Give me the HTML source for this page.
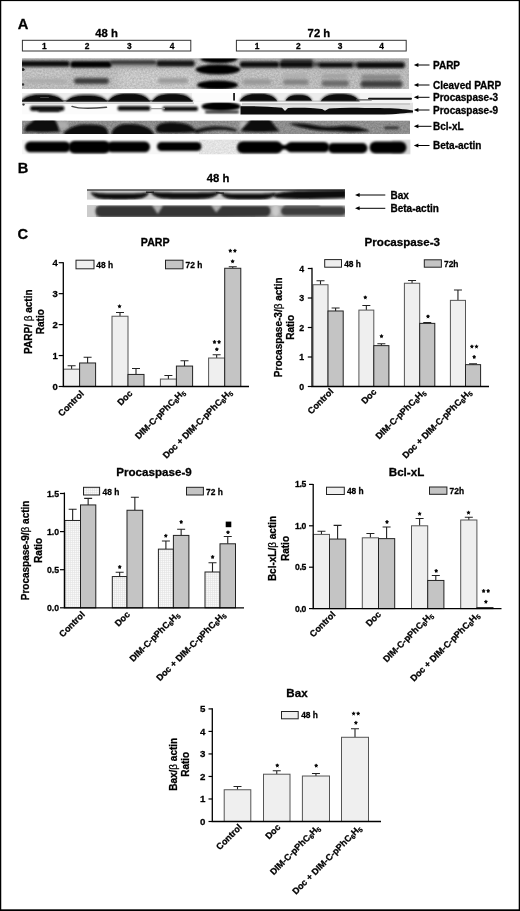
<!DOCTYPE html>
<html><head><meta charset="utf-8"><title>Figure</title>
<style>html,body{margin:0;padding:0;background:#fff;}body{width:520px;height:911px;overflow:hidden;font-family:'Liberation Sans', sans-serif;}svg{display:block;filter:grayscale(1);}text{font-family:"Liberation Sans",sans-serif;fill:#000;stroke:#000;stroke-width:0.28px;}</style>
</head><body>
<svg width="520" height="911" viewBox="0 0 520 911">
<defs>
<filter id="b1" filterUnits="userSpaceOnUse" x="0" y="40" width="520" height="190"><feGaussianBlur stdDeviation="1.05"/></filter>
<filter id="b2" filterUnits="userSpaceOnUse" x="0" y="40" width="520" height="190"><feGaussianBlur stdDeviation="1.6"/></filter>
<filter id="b05" filterUnits="userSpaceOnUse" x="0" y="40" width="520" height="190"><feGaussianBlur stdDeviation="0.55"/></filter>
<filter id="b3" filterUnits="userSpaceOnUse" x="0" y="40" width="520" height="190"><feGaussianBlur stdDeviation="3"/></filter>
<filter id="noise" filterUnits="userSpaceOnUse" x="0" y="40" width="520" height="190"><feTurbulence type="fractalNoise" baseFrequency="0.55" numOctaves="2" seed="7" result="t"/><feColorMatrix in="t" type="matrix" values="0 0 0 0 0  0 0 0 0 0  0 0 0 0 0  1.6 0 0 0 -0.35"/><feComposite in2="SourceGraphic" operator="in"/></filter>
<pattern id="grid" width="2" height="2" patternUnits="userSpaceOnUse"><rect width="2" height="2" fill="#f9f9f9"/><path d="M0,0.5H2M0.5,0V2" stroke="#e2e2e2" stroke-width="0.6"/></pattern>
<clipPath id="cPARP"><rect x="22" y="58.5" width="387" height="30.5"/></clipPath>
<clipPath id="cP3"><rect x="22" y="93" width="390" height="8.6"/></clipPath>
<clipPath id="cP9"><rect x="22" y="102.4" width="391" height="12"/></clipPath>
<clipPath id="cBCL"><rect x="22" y="120.5" width="388" height="13.4"/></clipPath>
<clipPath id="cACT"><rect x="22" y="139.5" width="388.5" height="15"/></clipPath>
<clipPath id="cBAX"><rect x="87" y="189.2" width="258" height="10.6"/></clipPath>
<clipPath id="cBACT"><rect x="87" y="205.3" width="258" height="11.8"/></clipPath>
</defs>
<rect x="0" y="0" width="520" height="911" fill="#fff"/>
<text x="17.70" y="28.50" font-size="14.7" font-weight="bold" text-anchor="start" >A</text>
<text x="95.20" y="37.00" font-size="11.3" font-weight="bold" text-anchor="start" >48 h</text>
<text x="307.60" y="37.00" font-size="11.3" font-weight="bold" text-anchor="start" >72 h</text>
<rect x="22.4" y="40.3" width="168.4" height="10.7" fill="#fff" stroke="#333" stroke-width="1"/>
<rect x="236.4" y="40.3" width="169.8" height="10.7" fill="#fff" stroke="#333" stroke-width="1"/>
<text x="44.30" y="49.20" font-size="8.4" font-weight="bold" text-anchor="middle" >1</text>
<text x="87.00" y="49.20" font-size="8.4" font-weight="bold" text-anchor="middle" >2</text>
<text x="129.30" y="49.20" font-size="8.4" font-weight="bold" text-anchor="middle" >3</text>
<text x="172.00" y="49.20" font-size="8.4" font-weight="bold" text-anchor="middle" >4</text>
<text x="257.00" y="49.20" font-size="8.4" font-weight="bold" text-anchor="middle" >1</text>
<text x="298.40" y="49.20" font-size="8.4" font-weight="bold" text-anchor="middle" >2</text>
<text x="340.00" y="49.20" font-size="8.4" font-weight="bold" text-anchor="middle" >3</text>
<text x="381.70" y="49.20" font-size="8.4" font-weight="bold" text-anchor="middle" >4</text>
<g clip-path="url(#cPARP)">
<rect x="22" y="58" width="387" height="32" fill="#c8c8c8"/>
<rect x="118" y="69" width="78.00" height="23.00" rx="3" ry="3" fill="#d6d6d6" opacity="1" filter="url(#b3)"/>
<rect x="22" y="67" width="48.00" height="10.00" rx="3" ry="3" fill="#d0d0d0" opacity="1" filter="url(#b3)"/>
<rect x="243" y="68" width="57.00" height="8.00" rx="3" ry="3" fill="#cfcfcf" opacity="1" filter="url(#b3)"/>
<rect x="22" y="58" width="387" height="32" fill="#888" filter="url(#noise)" opacity="0.16"/>
<rect x="22" y="58" width="387" height="1.6" fill="#aaa" filter="url(#b05)"/>
<rect x="20" y="60.5" width="176.00" height="7.00" rx="3" ry="3" fill="#8a8a8a" opacity="0.75" filter="url(#b2)"/>
<rect x="240" y="60.5" width="166.00" height="8.00" rx="3" ry="3" fill="#858585" opacity="0.8" filter="url(#b2)"/>
<rect x="18" y="61.1" width="51.50" height="5.40" rx="2.5" ry="2.5" fill="#0e0e0e" opacity="1" filter="url(#b1)"/>
<rect x="70.5" y="61.2" width="41.00" height="6.40" rx="3.2" ry="3.2" fill="#060606" opacity="1" filter="url(#b1)"/>
<rect x="110" y="60.2" width="46.00" height="4.40" rx="2" ry="2" fill="#3a3a3a" opacity="1" filter="url(#b1)"/>
<rect x="156.5" y="60.6" width="38.00" height="5.60" rx="2.6" ry="2.6" fill="#141414" opacity="1" filter="url(#b1)"/>
<ellipse cx="23" cy="69.5" rx="1.6" ry="1.6" fill="#222" opacity="1" filter="url(#b05)"/>
<ellipse cx="23" cy="84.5" rx="1.3" ry="1.3" fill="#333" opacity="1" filter="url(#b05)"/>
<rect x="26" y="79" width="40.00" height="4.00" rx="2" ry="2" fill="#aaaaaa" opacity="1" filter="url(#b2)"/>
<rect x="74" y="78" width="35.00" height="6.00" rx="3" ry="3" fill="#3a3a3a" opacity="1" filter="url(#b2)"/>
<rect x="158" y="78" width="30.00" height="5.50" rx="2.5" ry="2.5" fill="#9a9a9a" opacity="1" filter="url(#b2)"/>
<ellipse cx="219" cy="58.8" rx="18.5" ry="4.4" fill="#040404" opacity="1" filter="url(#b1)"/>
<ellipse cx="218" cy="69.6" rx="22.3" ry="5" fill="#040404" opacity="1" filter="url(#b1)"/>
<ellipse cx="217.5" cy="85" rx="20.5" ry="4.5" fill="#040404" opacity="1" filter="url(#b1)"/>
<rect x="240" y="61.8" width="39.00" height="5.50" rx="2.6" ry="2.6" fill="#101010" opacity="1" filter="url(#b1)"/>
<rect x="281" y="58.5" width="32.00" height="4.50" rx="2" ry="2" fill="#4a4a4a" opacity="1" filter="url(#b2)"/>
<rect x="279.5" y="61.6" width="34.00" height="5.80" rx="2.8" ry="2.8" fill="#0c0c0c" opacity="1" filter="url(#b1)"/>
<rect x="312" y="62.6" width="8.00" height="3.60" rx="2" ry="2" fill="#4a4a4a" opacity="1" filter="url(#b1)"/>
<rect x="318.5" y="62.6" width="35.00" height="4.80" rx="2.4" ry="2.4" fill="#111" opacity="1" filter="url(#b1)"/>
<rect x="352" y="63" width="8.00" height="3.40" rx="2" ry="2" fill="#4a4a4a" opacity="1" filter="url(#b1)"/>
<rect x="357" y="62.2" width="47.50" height="5.80" rx="2.8" ry="2.8" fill="#0c0c0c" opacity="1" filter="url(#b1)"/>
<rect x="243" y="79.2" width="28.00" height="5.60" rx="2.5" ry="2.5" fill="#989898" opacity="1" filter="url(#b2)"/>
<rect x="283" y="73.6" width="24.00" height="3.80" rx="2" ry="2" fill="#adadad" opacity="1" filter="url(#b2)"/>
<rect x="283" y="79.2" width="25.50" height="5.80" rx="2.5" ry="2.5" fill="#838383" opacity="1" filter="url(#b2)"/>
<rect x="322" y="74" width="26.00" height="4.30" rx="2" ry="2" fill="#a0a0a0" opacity="1" filter="url(#b2)"/>
<rect x="321.5" y="80.2" width="27.50" height="6.20" rx="3" ry="3" fill="#6a6a6a" opacity="1" filter="url(#b2)"/>
<rect x="361" y="74.6" width="40.00" height="4.80" rx="2.4" ry="2.4" fill="#868686" opacity="1" filter="url(#b2)"/>
<rect x="360.5" y="80.6" width="42.00" height="7.00" rx="3.4" ry="3.4" fill="#3e3e3e" opacity="1" filter="url(#b2)"/>
</g>
<g clip-path="url(#cP3)">
<rect x="22" y="93" width="390" height="9" fill="#ececec"/>
<rect x="192" y="93" width="49" height="9" fill="#fcfcfc"/>
<rect x="360" y="93" width="52" height="9" fill="#f4f4f4"/>
<path d="M20,102 C24.45,95.28 31.57,93.6 42.25,93.6 C52.93,93.6 60.05,95.28 64.5,102 Z" fill="#3a3a3a" filter="url(#b1)"/>
<path d="M21,102.3 C25.3,96.62 32.18,95.2 42.5,95.2 C52.82,95.2 59.7,96.62 64,102.3 Z" fill="#0b0b0b" filter="url(#b05)"/>
<path d="M65,102 C69.35,95.84 76.31,94.3 86.75,94.3 C97.19,94.3 104.15,95.84 108.5,102 Z" fill="#3a3a3a" filter="url(#b1)"/>
<path d="M65.5,102.3 C69.75,97.26 76.55,96 86.75,96 C96.95,96 103.75,97.26 108,102.3 Z" fill="#0b0b0b" filter="url(#b05)"/>
<path d="M107,102 C111.4,94.48 118.44,92.6 129.0,92.6 C139.56,92.6 146.6,94.48 151,102 Z" fill="#3a3a3a" filter="url(#b1)"/>
<path d="M107.5,102.3 C111.8,95.82 118.68,94.2 129.0,94.2 C139.32,94.2 146.2,95.82 150.5,102.3 Z" fill="#0b0b0b" filter="url(#b05)"/>
<path d="M151,102 C155.25,94.64 162.05,92.8 172.25,92.8 C182.45,92.8 189.25,94.64 193.5,102 Z" fill="#3a3a3a" filter="url(#b1)"/>
<path d="M151.5,102.3 C155.65,95.98 162.29,94.4 172.25,94.4 C182.21,94.4 188.85,95.98 193,102.3 Z" fill="#0b0b0b" filter="url(#b05)"/>
<path d="M239,101.3 C242.9,94.50 249.14,92.8 258.5,92.8 C267.86,92.8 274.1,94.50 278,101.3 Z" fill="#3a3a3a" filter="url(#b1)"/>
<path d="M239.5,101.4 C243.3,95.64 249.38,94.2 258.5,94.2 C267.62,94.2 273.7,95.64 277.5,101.4 Z" fill="#0b0b0b" filter="url(#b05)"/>
<path d="M285,100.8 C287.75,95.36 292.15,94 298.75,94 C305.35,94 309.75,95.36 312.5,100.8 Z" fill="#3a3a3a" filter="url(#b1)"/>
<path d="M285.5,100.8 C288.15,96.32 292.39,95.2 298.75,95.2 C305.11,95.2 309.35,96.32 312,100.8 Z" fill="#0b0b0b" filter="url(#b05)"/>
<path d="M320,101.3 C324.0,94.66 330.4,93 340.0,93 C349.6,93 356.0,94.66 360,101.3 Z" fill="#3a3a3a" filter="url(#b1)"/>
<path d="M320.5,101.4 C324.4,95.96 330.64,94.6 340.0,94.6 C349.36,94.6 355.6,95.96 359.5,101.4 Z" fill="#0b0b0b" filter="url(#b05)"/>
<rect x="368" y="97.7" width="44.00" height="2.00" rx="1" ry="1" fill="#151515" opacity="1" filter="url(#b05)"/>
<rect x="356" y="99.2" width="16.00" height="1.20" rx="0.6" ry="0.6" fill="#555" opacity="1" filter="url(#b05)"/>
<rect x="233.2" y="92.6" width="1.7" height="8" fill="#111" filter="url(#b05)"/>
<rect x="22" y="100.5" width="171" height="1.3" fill="#1a1a1a"/>
<rect x="240" y="100.8" width="120" height="0.8" fill="#777"/>
<rect x="40" y="97.2" width="9.00" height="0.70" rx="0.4" ry="0.4" fill="#777" opacity="0.7" filter="url(#b05)"/>
</g>
<g clip-path="url(#cP9)">
<rect x="22" y="102.4" width="220" height="12" fill="#fbfbfb"/>
<rect x="242" y="102.4" width="171" height="12" fill="#e2e2e2"/>
<rect x="22" y="102.4" width="172" height="1" fill="#8a8a8a"/>
<rect x="242" y="103.4" width="168" height="1.2" fill="#bdbdbd" filter="url(#b05)"/>
<ellipse cx="23.5" cy="104.6" rx="1.3" ry="1.1" fill="#333" opacity="1" filter="url(#b05)"/>
<rect x="30" y="105.9" width="34.50" height="5.00" rx="2.4" ry="2.4" fill="#0a0a0a" opacity="1" filter="url(#b1)"/>
<rect x="38" y="109" width="22.00" height="2.80" rx="1.3" ry="1.3" fill="#151515" opacity="1" filter="url(#b1)"/>
<path d="M72,106.4 C78,108.6 90,108.9 106.5,107.3" fill="none" stroke="#4a4a4a" stroke-width="1.5" stroke-linecap="round" filter="url(#b05)"/>
<rect x="117.5" y="106" width="33.00" height="4.80" rx="2.2" ry="2.2" fill="#0a0a0a" opacity="1" filter="url(#b1)"/>
<rect x="162.5" y="106.4" width="35.50" height="4.50" rx="2" ry="2" fill="#0e0e0e" opacity="1" filter="url(#b1)"/>
<rect x="150" y="108" width="15.00" height="1.30" rx="0.6" ry="0.6" fill="#9a9a9a" opacity="1" filter="url(#b05)"/>
<ellipse cx="221" cy="106.4" rx="19.5" ry="4.9" fill="#050505" opacity="1" filter="url(#b1)"/>
<rect x="205" y="110.4" width="34.00" height="3.00" rx="1.3" ry="1.3" fill="#333" opacity="1" filter="url(#b1)"/>
<path d="M240.5,106.3 C255,105.9 270,106.8 282,107.8 L285,111 L288,108 C300,107.4 312,107.9 322,108.9 L325,110.8 L329,108.4 C345,107.2 360,107.8 380,108.1 C395,108.4 405,109.2 413,110.6 L413,112.4 C400,113 392,115 380,115 L240.5,115 Z" fill="#090909" filter="url(#b05)"/>
</g>
<g clip-path="url(#cBCL)">
<rect x="22" y="120.5" width="388" height="13.5" fill="#9c9c9c"/>
<rect x="22" y="120.5" width="388" height="13.5" fill="#777" filter="url(#noise)" opacity="0.2"/>
<rect x="56" y="121" width="12.00" height="8.00" rx="2" ry="2" fill="#adadad" opacity="1" filter="url(#b2)"/>
<path d="M24.5,131.8 C24.5,127.5 26.5,124.5 30.5,123 C33,121 34.5,118.5 36,117 L53,117 C56,121 59,127 59.5,131.8 C48,132.3 35,132.3 24.5,131.8 Z" fill="#0a0a0a" filter="url(#b1)"/>
<path d="M64,132.5 C68,129 74,125.2 84,124.6 C92,124.2 101,124.6 105,127 C107.5,129 108.5,132 108.5,136 L64,136 Z" fill="#080808" filter="url(#b1)"/>
<path d="M111.5,133 C113,128 118,124.4 126,124 C136,123.8 144,125 149,128.5 C152,130.5 154,133 154.5,136 L111.5,136 Z" fill="#080808" filter="url(#b1)"/>
<path d="M156,128 C157,124.5 162,122.3 170,122.2 C178,122.2 186,123 190,125.5 C194,128 196,130 197,131.5 C190,133.3 165,133.4 158,132.5 C156,131.5 155.5,129.5 156,128 Z" fill="#080808" filter="url(#b1)"/>
<path d="M193,131 C203,126 222,124.2 236,129.3 L237,131.8 C225,128.8 208,129.4 197,133.6 Z" fill="#121212" filter="url(#b1)"/>
<ellipse cx="243.5" cy="125" rx="4" ry="4.5" fill="#bcbcbc" opacity="1" filter="url(#b2)"/>
<path d="M241,131.2 C242,128 246,125 249,122 C250,120 250.5,118.5 251,117 L269,117 C271,122 276,127 279.5,131.2 C268,132.2 252,132.2 241,131.2 Z" fill="#0a0a0a" filter="url(#b1)"/>
<path d="M289,123.6 C296,122.6 306,123.2 316,125.6 C326,127.4 334,127 342,125.8 C352,125 362,127.4 370,131 C360,132.6 348,132.4 338,131.2 C326,131.4 314,130.4 304,128 C297,126.6 292,125.4 289,123.6 Z" fill="#0b0b0b" filter="url(#b1)"/>
<rect x="384" y="126.4" width="15.00" height="2.80" rx="1.4" ry="1.4" fill="#2e2e2e" opacity="1" filter="url(#b1)"/>
</g>
<g clip-path="url(#cACT)">
<rect x="22" y="139.5" width="388.5" height="15" fill="#f6f6f6"/>
<rect x="199" y="139.5" width="42" height="15" fill="#eeeeee"/>
<rect x="199" y="139.5" width="42" height="15" fill="#aaa" filter="url(#noise)" opacity="0.1"/>
<rect x="392" y="139.5" width="19" height="15" fill="#d4d4d4" filter="url(#b1)"/>
<rect x="25" y="141.5" width="45.50" height="10.70" rx="5.2" ry="5.2" fill="#040404" opacity="1" filter="url(#b1)"/>
<rect x="68.5" y="140.7" width="42.00" height="12.80" rx="6.2" ry="6.2" fill="#040404" opacity="1" filter="url(#b1)"/>
<rect x="107" y="141.4" width="43.00" height="10.80" rx="5.2" ry="5.2" fill="#040404" opacity="1" filter="url(#b1)"/>
<rect x="157" y="141.9" width="44.50" height="9.10" rx="4.5" ry="4.5" fill="#040404" opacity="1" filter="url(#b1)"/>
<rect x="237" y="141.2" width="45.50" height="12.20" rx="6" ry="6" fill="#040404" opacity="1" filter="url(#b1)"/>
<rect x="279" y="145" width="11.00" height="4.40" rx="2" ry="2" fill="#040404" opacity="1" filter="url(#b1)"/>
<rect x="286" y="141.9" width="43.50" height="10.30" rx="5.2" ry="5.2" fill="#040404" opacity="1" filter="url(#b1)"/>
<rect x="328" y="143" width="39.50" height="10.20" rx="5.1" ry="5.1" fill="#040404" opacity="1" filter="url(#b1)"/>
<rect x="369.5" y="141.4" width="37.00" height="12.00" rx="6" ry="6" fill="#040404" opacity="1" filter="url(#b1)"/>
</g>
<line x1="415.80" y1="65.00" x2="429.50" y2="65.00" stroke="#000" stroke-width="1"/>
<path d="M413.80,65.00 l4.6,-2 l0,4 z" fill="#000"/>
<text x="433.00" y="68.60" font-size="10" font-weight="bold" text-anchor="start" >PARP</text>
<line x1="415.80" y1="85.00" x2="429.50" y2="85.00" stroke="#000" stroke-width="1"/>
<path d="M413.80,85.00 l4.6,-2 l0,4 z" fill="#000"/>
<text x="433.00" y="88.60" font-size="10" font-weight="bold" text-anchor="start" >Cleaved PARP</text>
<line x1="415.80" y1="97.30" x2="429.50" y2="97.30" stroke="#000" stroke-width="1"/>
<path d="M413.80,97.30 l4.6,-2 l0,4 z" fill="#000"/>
<text x="433.00" y="100.90" font-size="10" font-weight="bold" text-anchor="start" >Procaspase-3</text>
<line x1="415.80" y1="110.00" x2="429.50" y2="110.00" stroke="#000" stroke-width="1"/>
<path d="M413.80,110.00 l4.6,-2 l0,4 z" fill="#000"/>
<text x="433.00" y="114.20" font-size="10" font-weight="bold" text-anchor="start" >Procaspase-9</text>
<line x1="415.80" y1="126.30" x2="431.50" y2="126.30" stroke="#000" stroke-width="1"/>
<path d="M413.80,126.30 l4.6,-2 l0,4 z" fill="#000"/>
<text x="433.00" y="129.90" font-size="10" font-weight="bold" text-anchor="start" >Bcl-xL</text>
<line x1="415.80" y1="145.50" x2="429.50" y2="145.50" stroke="#000" stroke-width="1"/>
<path d="M413.80,145.50 l4.6,-2 l0,4 z" fill="#000"/>
<text x="433.00" y="149.10" font-size="10" font-weight="bold" text-anchor="start" >Beta-actin</text>
<text x="17.70" y="173.30" font-size="14.7" font-weight="bold" text-anchor="start" >B</text>
<text x="206.70" y="181.60" font-size="11.3" font-weight="bold" text-anchor="start" >48 h</text>
<g clip-path="url(#cBAX)">
<rect x="87" y="189.2" width="258" height="10.6" fill="#cfcfcf"/>
<rect x="87" y="188.6" width="258" height="2.2" fill="#505050" filter="url(#b05)"/>
<path d="M90.5,192.3 C97.58,193.8 105.25,193.8 120.0,193.8 C134.75,193.8 142.42,193.8 149.5,192.3 C144.78,199.2 137.7,199.2 120.0,199.2 C102.3,199.2 95.22,199.2 90.5,192.3 Z" fill="#444" opacity="0.55" filter="url(#b2)"/>
<path d="M90.5,192.3 C97.58,193.8 105.25,193.8 120.0,193.8 C134.75,193.8 142.42,193.8 149.5,192.3 C144.78,199.2 137.7,199.2 120.0,199.2 C102.3,199.2 95.22,199.2 90.5,192.3 Z" fill="#070707" filter="url(#b1)"/>
<path d="M150.5,192 C158.78,192.9 167.75,192.9 185.0,192.9 C202.25,192.9 211.22,192.9 219.5,192 C213.98,198.8 205.7,198.8 185.0,198.8 C164.3,198.8 156.02,198.8 150.5,192 Z" fill="#444" opacity="0.55" filter="url(#b2)"/>
<path d="M150.5,192 C158.78,192.9 167.75,192.9 185.0,192.9 C202.25,192.9 211.22,192.9 219.5,192 C213.98,198.8 205.7,198.8 185.0,198.8 C164.3,198.8 156.02,198.8 150.5,192 Z" fill="#070707" filter="url(#b1)"/>
<path d="M220.5,193 C227.16,194 234.375,194 248.25,194 C262.125,194 269.34,194 276,193 C271.56,199.3 264.9,199.3 248.25,199.3 C231.6,199.3 224.94,199.3 220.5,193 Z" fill="#444" opacity="0.55" filter="url(#b2)"/>
<path d="M220.5,193 C227.16,194 234.375,194 248.25,194 C262.125,194 269.34,194 276,193 C271.56,199.3 264.9,199.3 248.25,199.3 C231.6,199.3 224.94,199.3 220.5,193 Z" fill="#070707" filter="url(#b1)"/>
<path d="M146,191.6 L154,191.6 L154,193 L146,193 Z M216,192 L224,192.4 L224,194 L216,193.4 Z" fill="#222" filter="url(#b05)"/>
<path d="M272,194.5 C280,192 292,190.6 310,190.4 L346,190 L346,197.8 C325,199.2 295,199.4 278,198 C275,197.4 273,196 272,194.5 Z" fill="#070707" filter="url(#b1)"/>
</g>
<g clip-path="url(#cBACT)">
<rect x="87" y="205.3" width="258" height="11.8" fill="#b0b0b0"/>
<rect x="87" y="205.3" width="9" height="11.8" fill="#cbcbcb" filter="url(#b05)"/>
<path d="M101,205.6 L152,205.6 L157.8,214 L163,205.6 L211,205.6 L216.2,212.5 L222,206 L266,206 C269,206 270.5,208 270.5,211 C270.5,214 269,216.4 266,216.6 L222,217 L101,217 C97.5,217 95.5,214.5 95.5,211.3 C95.5,208 97.5,205.6 101,205.6 Z" fill="#363636" filter="url(#b1)"/>
<rect x="281" y="206.6" width="65.00" height="9.00" rx="4.5" ry="4.5" fill="#3e3e3e" opacity="1" filter="url(#b1)"/>
<rect x="284" y="205.6" width="36.00" height="2.40" rx="1.5" ry="1.5" fill="#555" opacity="1" filter="url(#b1)"/>
<ellipse cx="275.7" cy="210.5" rx="3.4" ry="6" fill="#cbcbcb" opacity="1" filter="url(#b1)"/>
</g>
<line x1="357.00" y1="195.00" x2="385.30" y2="195.00" stroke="#000" stroke-width="1"/>
<path d="M355.00,195.00 l4.6,-2 l0,4 z" fill="#000"/>
<text x="390.50" y="198.70" font-size="10" font-weight="bold" text-anchor="start" >Bax</text>
<line x1="357.00" y1="208.30" x2="385.30" y2="208.30" stroke="#000" stroke-width="1"/>
<path d="M355.00,208.30 l4.6,-2 l0,4 z" fill="#000"/>
<text x="390.50" y="212.00" font-size="10" font-weight="bold" text-anchor="start" >Beta-actin</text>
<text x="17.60" y="238.80" font-size="14.7" font-weight="bold" text-anchor="start" >C</text>
<path d="M71.60,369.17 V365.80 M67.60,365.80 H75.60" stroke="#222" stroke-width="1.1" fill="none"/>
<rect x="63.60" y="369.17" width="16.00" height="17.33" fill="#efefef" stroke="#555" stroke-width="1"/>
<path d="M87.60,362.98 V357.20 M83.60,357.20 H91.60" stroke="#222" stroke-width="1.1" fill="none"/>
<rect x="79.60" y="362.98" width="16.00" height="23.52" fill="#c4c4c4" stroke="#222" stroke-width="1"/>
<path d="M120.00,316.24 V312.50 M116.00,312.50 H124.00" stroke="#222" stroke-width="1.1" fill="none"/>
<rect x="112.00" y="316.24" width="16.00" height="70.26" fill="#efefef" stroke="#555" stroke-width="1"/>
<path d="M136.00,374.43 V368.50 M132.00,368.50 H140.00" stroke="#222" stroke-width="1.1" fill="none"/>
<rect x="128.00" y="374.43" width="16.00" height="12.07" fill="#c4c4c4" stroke="#222" stroke-width="1"/>
<path d="M168.40,379.07 V375.50 M164.40,375.50 H172.40" stroke="#222" stroke-width="1.1" fill="none"/>
<rect x="160.40" y="379.07" width="16.00" height="7.43" fill="#efefef" stroke="#555" stroke-width="1"/>
<path d="M184.50,366.07 V360.70 M180.50,360.70 H188.50" stroke="#222" stroke-width="1.1" fill="none"/>
<rect x="176.40" y="366.07" width="16.20" height="20.43" fill="#c4c4c4" stroke="#222" stroke-width="1"/>
<path d="M216.65,358.03 V354.70 M212.65,354.70 H220.65" stroke="#222" stroke-width="1.1" fill="none"/>
<rect x="208.60" y="358.03" width="16.10" height="28.47" fill="#efefef" stroke="#555" stroke-width="1"/>
<path d="M232.75,268.27 V266.80 M228.75,266.80 H236.75" stroke="#222" stroke-width="1.1" fill="none"/>
<rect x="224.70" y="268.27" width="16.10" height="118.23" fill="#c4c4c4" stroke="#222" stroke-width="1"/>
<path d="M63.30,262.30 V386.50 H249.00" stroke="#000" stroke-width="1.3" fill="none"/>
<line x1="58.70" y1="386.50" x2="63.30" y2="386.50" stroke="#000" stroke-width="1.2"/>
<text x="57.80" y="389.90" font-size="9.5" font-weight="bold" text-anchor="end" >0</text>
<line x1="58.70" y1="355.55" x2="63.30" y2="355.55" stroke="#000" stroke-width="1.2"/>
<text x="57.80" y="358.95" font-size="9.5" font-weight="bold" text-anchor="end" >1</text>
<line x1="58.70" y1="324.60" x2="63.30" y2="324.60" stroke="#000" stroke-width="1.2"/>
<text x="57.80" y="328.00" font-size="9.5" font-weight="bold" text-anchor="end" >2</text>
<line x1="58.70" y1="293.65" x2="63.30" y2="293.65" stroke="#000" stroke-width="1.2"/>
<text x="57.80" y="297.05" font-size="9.5" font-weight="bold" text-anchor="end" >3</text>
<line x1="58.70" y1="262.70" x2="63.30" y2="262.70" stroke="#000" stroke-width="1.2"/>
<text x="57.80" y="266.10" font-size="9.5" font-weight="bold" text-anchor="end" >4</text>
<text x="155.20" y="245.80" font-size="10.6" font-weight="bold" text-anchor="middle" >PARP</text>
<text transform="translate(32.00,321.70) rotate(-90)" font-size="10" font-weight="bold" text-anchor="middle">PARP/ <tspan font-weight="normal">&#946;</tspan> actin</text>
<text transform="translate(44.00,321.70) rotate(-90)" font-size="10" font-weight="bold" text-anchor="middle">Ratio</text>
<rect x="76.00" y="260.20" width="18.00" height="8.60" fill="#efefef" stroke="#222" stroke-width="1"/>
<text x="96.30" y="268.30" font-size="8.4" font-weight="bold" text-anchor="start" >48 h</text>
<rect x="165.50" y="260.20" width="17.50" height="8.60" fill="#c4c4c4" stroke="#222" stroke-width="1"/>
<text x="185.50" y="268.30" font-size="8.4" font-weight="bold" text-anchor="start" >72 h</text>
<text transform="translate(84.50,394.30) rotate(-45)" font-size="9.0" font-weight="bold" text-anchor="end">Control</text>
<text transform="translate(133.00,394.00) rotate(-45)" font-size="9.0" font-weight="bold" text-anchor="end">Doc</text>
<text transform="translate(185.50,393.00) rotate(-45)" font-size="9.0" font-weight="bold" text-anchor="end">DIM-C-pPhC<tspan font-size="6.5" dy="1.8">6</tspan><tspan dy="-1.8">H</tspan><tspan font-size="6.5" dy="1.8">5</tspan></text>
<text transform="translate(232.50,393.00) rotate(-45)" font-size="9.0" font-weight="bold" text-anchor="end">Doc + DIM-C-pPhC<tspan font-size="6.5" dy="1.8">6</tspan><tspan dy="-1.8">H</tspan><tspan font-size="6.5" dy="1.8">5</tspan></text>
<circle cx="119.50" cy="306.30" r="1.4" fill="#0a0a0a"/>
<path d="M119.50,304.40 V306.60 M117.70,305.70 L120.65,307.85 M121.30,305.70 L118.35,307.85" stroke="#0a0a0a" stroke-width="0.8" fill="none"/>
<circle cx="214.50" cy="342.00" r="1.4" fill="#0a0a0a"/>
<path d="M214.50,340.10 V342.30 M212.70,341.40 L215.65,343.55 M216.30,341.40 L213.35,343.55" stroke="#0a0a0a" stroke-width="0.8" fill="none"/>
<circle cx="219.10" cy="342.00" r="1.4" fill="#0a0a0a"/>
<path d="M219.10,340.10 V342.30 M217.30,341.40 L220.25,343.55 M220.90,341.40 L217.95,343.55" stroke="#0a0a0a" stroke-width="0.8" fill="none"/>
<circle cx="216.80" cy="349.30" r="1.4" fill="#0a0a0a"/>
<path d="M216.80,347.40 V349.60 M215.00,348.70 L217.95,350.85 M218.60,348.70 L215.65,350.85" stroke="#0a0a0a" stroke-width="0.8" fill="none"/>
<circle cx="230.30" cy="250.80" r="1.4" fill="#0a0a0a"/>
<path d="M230.30,248.90 V251.10 M228.50,250.20 L231.45,252.35 M232.10,250.20 L229.15,252.35" stroke="#0a0a0a" stroke-width="0.8" fill="none"/>
<circle cx="234.90" cy="250.80" r="1.4" fill="#0a0a0a"/>
<path d="M234.90,248.90 V251.10 M233.10,250.20 L236.05,252.35 M236.70,250.20 L233.75,252.35" stroke="#0a0a0a" stroke-width="0.8" fill="none"/>
<circle cx="232.60" cy="261.30" r="1.4" fill="#0a0a0a"/>
<path d="M232.60,259.40 V261.60 M230.80,260.70 L233.75,262.85 M234.40,260.70 L231.45,262.85" stroke="#0a0a0a" stroke-width="0.8" fill="none"/>
<path d="M320.50,284.73 V280.80 M316.50,280.80 H324.50" stroke="#222" stroke-width="1.1" fill="none"/>
<rect x="313.00" y="284.73" width="15.00" height="101.77" fill="#efefef" stroke="#555" stroke-width="1"/>
<path d="M335.60,310.98 V308.00 M331.60,308.00 H339.60" stroke="#222" stroke-width="1.1" fill="none"/>
<rect x="328.00" y="310.98" width="15.20" height="75.52" fill="#c4c4c4" stroke="#222" stroke-width="1"/>
<path d="M366.35,310.10 V305.50 M362.35,305.50 H370.35" stroke="#222" stroke-width="1.1" fill="none"/>
<rect x="358.90" y="310.10" width="14.90" height="76.40" fill="#efefef" stroke="#555" stroke-width="1"/>
<path d="M381.35,345.64 V343.80 M377.35,343.80 H385.35" stroke="#222" stroke-width="1.1" fill="none"/>
<rect x="373.80" y="345.64" width="15.10" height="40.86" fill="#c4c4c4" stroke="#222" stroke-width="1"/>
<path d="M412.05,283.25 V280.50 M408.05,280.50 H416.05" stroke="#222" stroke-width="1.1" fill="none"/>
<rect x="404.40" y="283.25" width="15.30" height="103.25" fill="#efefef" stroke="#555" stroke-width="1"/>
<path d="M427.25,323.37 V322.60 M423.25,322.60 H431.25" stroke="#222" stroke-width="1.1" fill="none"/>
<rect x="419.70" y="323.37" width="15.10" height="63.13" fill="#c4c4c4" stroke="#222" stroke-width="1"/>
<path d="M457.95,300.36 V290.00 M453.95,290.00 H461.95" stroke="#222" stroke-width="1.1" fill="none"/>
<rect x="450.40" y="300.36" width="15.10" height="86.14" fill="#efefef" stroke="#555" stroke-width="1"/>
<path d="M473.05,364.67 V363.80 M469.05,363.80 H477.05" stroke="#222" stroke-width="1.1" fill="none"/>
<rect x="465.50" y="364.67" width="15.10" height="21.83" fill="#c4c4c4" stroke="#222" stroke-width="1"/>
<path d="M312.00,267.80 V386.50 H489.00" stroke="#000" stroke-width="1.3" fill="none"/>
<line x1="307.80" y1="386.50" x2="312.00" y2="386.50" stroke="#000" stroke-width="1.2"/>
<text x="304.20" y="389.65" font-size="8.8" font-weight="bold" text-anchor="end" >0</text>
<line x1="307.80" y1="357.00" x2="312.00" y2="357.00" stroke="#000" stroke-width="1.2"/>
<text x="304.20" y="360.15" font-size="8.8" font-weight="bold" text-anchor="end" >1</text>
<line x1="307.80" y1="327.50" x2="312.00" y2="327.50" stroke="#000" stroke-width="1.2"/>
<text x="304.20" y="330.65" font-size="8.8" font-weight="bold" text-anchor="end" >2</text>
<line x1="307.80" y1="298.00" x2="312.00" y2="298.00" stroke="#000" stroke-width="1.2"/>
<text x="304.20" y="301.15" font-size="8.8" font-weight="bold" text-anchor="end" >3</text>
<line x1="307.80" y1="268.50" x2="312.00" y2="268.50" stroke="#000" stroke-width="1.2"/>
<text x="304.20" y="271.65" font-size="8.8" font-weight="bold" text-anchor="end" >4</text>
<text x="402.30" y="246.00" font-size="11.6" font-weight="bold" text-anchor="middle" >Procaspase-3</text>
<text transform="translate(282.00,327.30) rotate(-90)" font-size="10" font-weight="bold" text-anchor="middle">Procaspase-3/<tspan font-weight="normal">&#946;</tspan> actin</text>
<text transform="translate(294.00,327.30) rotate(-90)" font-size="10" font-weight="bold" text-anchor="middle">Ratio</text>
<rect x="324.70" y="259.60" width="16.80" height="7.60" fill="#efefef" stroke="#222" stroke-width="1"/>
<text x="344.20" y="266.70" font-size="8.4" font-weight="bold" text-anchor="start" >48 h</text>
<rect x="424.30" y="259.80" width="17.10" height="7.40" fill="#c4c4c4" stroke="#222" stroke-width="1"/>
<text x="444.00" y="266.70" font-size="8.4" font-weight="bold" text-anchor="start" >72h</text>
<text transform="translate(334.00,392.00) rotate(-45)" font-size="9.0" font-weight="bold" text-anchor="end">Control</text>
<text transform="translate(377.00,392.50) rotate(-45)" font-size="9.0" font-weight="bold" text-anchor="end">Doc</text>
<text transform="translate(426.00,393.00) rotate(-45)" font-size="9.0" font-weight="bold" text-anchor="end">DIM-C-pPhC<tspan font-size="6.5" dy="1.8">6</tspan><tspan dy="-1.8">H</tspan><tspan font-size="6.5" dy="1.8">5</tspan></text>
<text transform="translate(472.00,393.00) rotate(-45)" font-size="9.0" font-weight="bold" text-anchor="end">Doc + DIM-C-pPhC<tspan font-size="6.5" dy="1.8">6</tspan><tspan dy="-1.8">H</tspan><tspan font-size="6.5" dy="1.8">5</tspan></text>
<circle cx="365.30" cy="297.40" r="1.4" fill="#0a0a0a"/>
<path d="M365.30,295.50 V297.70 M363.50,296.80 L366.45,298.95 M367.10,296.80 L364.15,298.95" stroke="#0a0a0a" stroke-width="0.8" fill="none"/>
<circle cx="381.50" cy="336.20" r="1.4" fill="#0a0a0a"/>
<path d="M381.50,334.30 V336.50 M379.70,335.60 L382.65,337.75 M383.30,335.60 L380.35,337.75" stroke="#0a0a0a" stroke-width="0.8" fill="none"/>
<circle cx="428.00" cy="316.50" r="1.4" fill="#0a0a0a"/>
<path d="M428.00,314.60 V316.80 M426.20,315.90 L429.15,318.05 M429.80,315.90 L426.85,318.05" stroke="#0a0a0a" stroke-width="0.8" fill="none"/>
<circle cx="471.90" cy="346.60" r="1.4" fill="#0a0a0a"/>
<path d="M471.90,344.70 V346.90 M470.10,346.00 L473.05,348.15 M473.70,346.00 L470.75,348.15" stroke="#0a0a0a" stroke-width="0.8" fill="none"/>
<circle cx="476.50" cy="346.60" r="1.4" fill="#0a0a0a"/>
<path d="M476.50,344.70 V346.90 M474.70,346.00 L477.65,348.15 M478.30,346.00 L475.35,348.15" stroke="#0a0a0a" stroke-width="0.8" fill="none"/>
<circle cx="474.20" cy="357.00" r="1.4" fill="#0a0a0a"/>
<path d="M474.20,355.10 V357.30 M472.40,356.40 L475.35,358.55 M476.00,356.40 L473.05,358.55" stroke="#0a0a0a" stroke-width="0.8" fill="none"/>
<path d="M72.65,520.47 V509.20 M68.65,509.20 H76.65" stroke="#222" stroke-width="1.1" fill="none"/>
<rect x="64.80" y="520.47" width="15.70" height="87.33" fill="url(#grid)" stroke="#222" stroke-width="1"/>
<path d="M88.15,504.93 V498.40 M84.15,498.40 H92.15" stroke="#222" stroke-width="1.1" fill="none"/>
<rect x="80.50" y="504.93" width="15.30" height="102.87" fill="#c4c4c4" stroke="#222" stroke-width="1"/>
<path d="M119.65,576.56 V572.20 M115.65,572.20 H123.65" stroke="#222" stroke-width="1.1" fill="none"/>
<rect x="112.30" y="576.56" width="14.70" height="31.24" fill="url(#grid)" stroke="#222" stroke-width="1"/>
<path d="M134.85,510.26 V497.20 M130.85,497.20 H138.85" stroke="#222" stroke-width="1.1" fill="none"/>
<rect x="127.00" y="510.26" width="15.70" height="97.54" fill="#c4c4c4" stroke="#222" stroke-width="1"/>
<path d="M165.90,549.13 V541.00 M161.90,541.00 H169.90" stroke="#222" stroke-width="1.1" fill="none"/>
<rect x="158.40" y="549.13" width="15.00" height="58.67" fill="url(#grid)" stroke="#222" stroke-width="1"/>
<path d="M181.15,535.41 V529.30 M177.15,529.30 H185.15" stroke="#222" stroke-width="1.1" fill="none"/>
<rect x="173.40" y="535.41" width="15.50" height="72.39" fill="#c4c4c4" stroke="#222" stroke-width="1"/>
<path d="M212.50,571.99 V562.80 M208.50,562.80 H216.50" stroke="#222" stroke-width="1.1" fill="none"/>
<rect x="205.00" y="571.99" width="15.00" height="35.81" fill="url(#grid)" stroke="#222" stroke-width="1"/>
<path d="M227.75,543.79 V536.50 M223.75,536.50 H231.75" stroke="#222" stroke-width="1.1" fill="none"/>
<rect x="220.00" y="543.79" width="15.50" height="64.01" fill="#c4c4c4" stroke="#222" stroke-width="1"/>
<path d="M64.40,492.40 V607.80 H244.00" stroke="#000" stroke-width="1.3" fill="none"/>
<line x1="60.00" y1="607.80" x2="64.40" y2="607.80" stroke="#000" stroke-width="1.2"/>
<text x="59.00" y="610.91" font-size="8.7" font-weight="bold" text-anchor="end" >0.0</text>
<line x1="60.00" y1="569.70" x2="64.40" y2="569.70" stroke="#000" stroke-width="1.2"/>
<text x="59.00" y="572.81" font-size="8.7" font-weight="bold" text-anchor="end" >0.5</text>
<line x1="60.00" y1="531.60" x2="64.40" y2="531.60" stroke="#000" stroke-width="1.2"/>
<text x="59.00" y="534.71" font-size="8.7" font-weight="bold" text-anchor="end" >1.0</text>
<line x1="60.00" y1="493.50" x2="64.40" y2="493.50" stroke="#000" stroke-width="1.2"/>
<text x="59.00" y="496.61" font-size="8.7" font-weight="bold" text-anchor="end" >1.5</text>
<text x="154.00" y="476.20" font-size="11.6" font-weight="bold" text-anchor="middle" >Procaspase-9</text>
<text transform="translate(29.20,550.40) rotate(-90)" font-size="10" font-weight="bold" text-anchor="middle">Procaspase-9/<tspan font-weight="normal">&#946;</tspan> actin</text>
<text transform="translate(41.50,550.40) rotate(-90)" font-size="10" font-weight="bold" text-anchor="middle">Ratio</text>
<rect x="83.50" y="487.30" width="16.10" height="7.70" fill="url(#grid)" stroke="#222" stroke-width="1"/>
<text x="102.60" y="494.50" font-size="8.4" font-weight="bold" text-anchor="start" >48 h</text>
<rect x="186.50" y="487.30" width="16.90" height="7.70" fill="#c4c4c4" stroke="#222" stroke-width="1"/>
<text x="206.00" y="494.50" font-size="8.4" font-weight="bold" text-anchor="start" >72 h</text>
<text transform="translate(85.50,615.00) rotate(-45)" font-size="9.0" font-weight="bold" text-anchor="end">Control</text>
<text transform="translate(130.50,615.00) rotate(-45)" font-size="9.0" font-weight="bold" text-anchor="end">Doc</text>
<text transform="translate(180.00,615.50) rotate(-45)" font-size="9.0" font-weight="bold" text-anchor="end">DIM-C-pPhC<tspan font-size="6.5" dy="1.8">6</tspan><tspan dy="-1.8">H</tspan><tspan font-size="6.5" dy="1.8">5</tspan></text>
<text transform="translate(226.00,615.50) rotate(-45)" font-size="9.0" font-weight="bold" text-anchor="end">Doc + DIM-C-pPhC<tspan font-size="6.5" dy="1.8">6</tspan><tspan dy="-1.8">H</tspan><tspan font-size="6.5" dy="1.8">5</tspan></text>
<circle cx="119.70" cy="567.00" r="1.4" fill="#0a0a0a"/>
<path d="M119.70,565.10 V567.30 M117.90,566.40 L120.85,568.55 M121.50,566.40 L118.55,568.55" stroke="#0a0a0a" stroke-width="0.8" fill="none"/>
<circle cx="165.80" cy="535.80" r="1.4" fill="#0a0a0a"/>
<path d="M165.80,533.90 V536.10 M164.00,535.20 L166.95,537.35 M167.60,535.20 L164.65,537.35" stroke="#0a0a0a" stroke-width="0.8" fill="none"/>
<circle cx="181.20" cy="522.00" r="1.4" fill="#0a0a0a"/>
<path d="M181.20,520.10 V522.30 M179.40,521.40 L182.35,523.55 M183.00,521.40 L180.05,523.55" stroke="#0a0a0a" stroke-width="0.8" fill="none"/>
<circle cx="212.60" cy="557.00" r="1.4" fill="#0a0a0a"/>
<path d="M212.60,555.10 V557.30 M210.80,556.40 L213.75,558.55 M214.40,556.40 L211.45,558.55" stroke="#0a0a0a" stroke-width="0.8" fill="none"/>
<circle cx="228.00" cy="532.30" r="1.4" fill="#0a0a0a"/>
<path d="M228.00,530.40 V532.60 M226.20,531.70 L229.15,533.85 M229.80,531.70 L226.85,533.85" stroke="#0a0a0a" stroke-width="0.8" fill="none"/>
<rect x="225.7" y="521.6" width="5.6" height="5.6" fill="#000"/>
<path d="M321.45,534.41 V531.20 M317.45,531.20 H325.45" stroke="#222" stroke-width="1.1" fill="none"/>
<rect x="313.40" y="534.41" width="16.10" height="74.19" fill="#efefef" stroke="#555" stroke-width="1"/>
<path d="M337.60,539.05 V525.40 M333.60,525.40 H341.60" stroke="#222" stroke-width="1.1" fill="none"/>
<rect x="329.50" y="539.05" width="16.20" height="69.55" fill="#c4c4c4" stroke="#222" stroke-width="1"/>
<path d="M370.40,537.81 V533.50 M366.40,533.50 H374.40" stroke="#222" stroke-width="1.1" fill="none"/>
<rect x="362.30" y="537.81" width="16.20" height="70.79" fill="#efefef" stroke="#555" stroke-width="1"/>
<path d="M386.60,538.63 V527.00 M382.60,527.00 H390.60" stroke="#222" stroke-width="1.1" fill="none"/>
<rect x="378.50" y="538.63" width="16.20" height="69.97" fill="#c4c4c4" stroke="#222" stroke-width="1"/>
<path d="M419.60,525.80 V518.50 M415.60,518.50 H423.60" stroke="#222" stroke-width="1.1" fill="none"/>
<rect x="411.50" y="525.80" width="16.20" height="82.80" fill="#efefef" stroke="#555" stroke-width="1"/>
<path d="M435.80,580.45 V575.50 M431.80,575.50 H439.80" stroke="#222" stroke-width="1.1" fill="none"/>
<rect x="427.70" y="580.45" width="16.20" height="28.15" fill="#c4c4c4" stroke="#222" stroke-width="1"/>
<path d="M468.80,520.00 V517.30 M464.80,517.30 H472.80" stroke="#222" stroke-width="1.1" fill="none"/>
<rect x="460.70" y="520.00" width="16.20" height="88.60" fill="#efefef" stroke="#555" stroke-width="1"/>
<rect x="476.90" y="607.61" width="16.10" height="0.99" fill="#c4c4c4" stroke="#222" stroke-width="1"/>
<path d="M313.20,483.90 V608.60 H501.50" stroke="#000" stroke-width="1.3" fill="none"/>
<line x1="309.00" y1="608.60" x2="313.20" y2="608.60" stroke="#000" stroke-width="1.2"/>
<text x="305.80" y="611.68" font-size="8.6" font-weight="bold" text-anchor="end" letter-spacing="-0.4">0.0</text>
<line x1="309.00" y1="567.20" x2="313.20" y2="567.20" stroke="#000" stroke-width="1.2"/>
<text x="305.80" y="570.28" font-size="8.6" font-weight="bold" text-anchor="end" letter-spacing="-0.4">0.5</text>
<line x1="309.00" y1="525.80" x2="313.20" y2="525.80" stroke="#000" stroke-width="1.2"/>
<text x="305.80" y="528.88" font-size="8.6" font-weight="bold" text-anchor="end" letter-spacing="-0.4">1.0</text>
<line x1="309.00" y1="484.40" x2="313.20" y2="484.40" stroke="#000" stroke-width="1.2"/>
<text x="305.80" y="487.48" font-size="8.6" font-weight="bold" text-anchor="end" letter-spacing="-0.4">1.5</text>
<text x="406.50" y="476.40" font-size="11.6" font-weight="bold" text-anchor="middle" >Bcl-xL</text>
<text transform="translate(276.00,548.50) rotate(-90)" font-size="10" font-weight="bold" text-anchor="middle">Bcl-xL/<tspan font-weight="normal">&#946;</tspan> actin</text>
<text transform="translate(288.50,548.50) rotate(-90)" font-size="10" font-weight="bold" text-anchor="middle">Ratio</text>
<rect x="326.50" y="487.20" width="17.80" height="7.30" fill="#efefef" stroke="#222" stroke-width="1"/>
<text x="346.90" y="494.00" font-size="8.4" font-weight="bold" text-anchor="start" >48 h</text>
<rect x="429.50" y="487.00" width="17.40" height="7.30" fill="#c4c4c4" stroke="#222" stroke-width="1"/>
<text x="449.60" y="493.80" font-size="8.4" font-weight="bold" text-anchor="start" >72h</text>
<text transform="translate(336.00,615.00) rotate(-45)" font-size="9.0" font-weight="bold" text-anchor="end">Control</text>
<text transform="translate(381.50,615.00) rotate(-45)" font-size="9.0" font-weight="bold" text-anchor="end">Doc</text>
<text transform="translate(433.50,616.00) rotate(-45)" font-size="9.0" font-weight="bold" text-anchor="end">DIM-C-pPhC<tspan font-size="6.5" dy="1.8">6</tspan><tspan dy="-1.8">H</tspan><tspan font-size="6.5" dy="1.8">5</tspan></text>
<text transform="translate(480.00,616.00) rotate(-45)" font-size="9.0" font-weight="bold" text-anchor="end">Doc + DIM-C-pPhC<tspan font-size="6.5" dy="1.8">6</tspan><tspan dy="-1.8">H</tspan><tspan font-size="6.5" dy="1.8">5</tspan></text>
<circle cx="387.00" cy="522.00" r="1.4" fill="#0a0a0a"/>
<path d="M387.00,520.10 V522.30 M385.20,521.40 L388.15,523.55 M388.80,521.40 L385.85,523.55" stroke="#0a0a0a" stroke-width="0.8" fill="none"/>
<circle cx="419.60" cy="513.80" r="1.4" fill="#0a0a0a"/>
<path d="M419.60,511.90 V514.10 M417.80,513.20 L420.75,515.35 M421.40,513.20 L418.45,515.35" stroke="#0a0a0a" stroke-width="0.8" fill="none"/>
<circle cx="436.20" cy="570.90" r="1.4" fill="#0a0a0a"/>
<path d="M436.20,569.00 V571.20 M434.40,570.30 L437.35,572.45 M438.00,570.30 L435.05,572.45" stroke="#0a0a0a" stroke-width="0.8" fill="none"/>
<circle cx="468.50" cy="512.70" r="1.4" fill="#0a0a0a"/>
<path d="M468.50,510.80 V513.00 M466.70,512.10 L469.65,514.25 M470.30,512.10 L467.35,514.25" stroke="#0a0a0a" stroke-width="0.8" fill="none"/>
<circle cx="483.60" cy="591.00" r="1.4" fill="#0a0a0a"/>
<path d="M483.60,589.10 V591.30 M481.80,590.40 L484.75,592.55 M485.40,590.40 L482.45,592.55" stroke="#0a0a0a" stroke-width="0.8" fill="none"/>
<circle cx="488.20" cy="591.00" r="1.4" fill="#0a0a0a"/>
<path d="M488.20,589.10 V591.30 M486.40,590.40 L489.35,592.55 M490.00,590.40 L487.05,592.55" stroke="#0a0a0a" stroke-width="0.8" fill="none"/>
<circle cx="485.90" cy="601.80" r="1.4" fill="#0a0a0a"/>
<path d="M485.90,599.90 V602.10 M484.10,601.20 L487.05,603.35 M487.70,601.20 L484.75,603.35" stroke="#0a0a0a" stroke-width="0.8" fill="none"/>
<path d="M237.50,789.75 V786.50 M233.50,786.50 H241.50" stroke="#222" stroke-width="1.1" fill="none"/>
<rect x="224.20" y="789.75" width="26.60" height="31.75" fill="#efefef" stroke="#555" stroke-width="1"/>
<path d="M276.75,774.21 V770.80 M272.75,770.80 H280.75" stroke="#222" stroke-width="1.1" fill="none"/>
<rect x="263.50" y="774.21" width="26.50" height="47.29" fill="#efefef" stroke="#555" stroke-width="1"/>
<path d="M315.95,776.01 V773.50 M311.95,773.50 H319.95" stroke="#222" stroke-width="1.1" fill="none"/>
<rect x="302.40" y="776.01" width="27.10" height="45.49" fill="#efefef" stroke="#555" stroke-width="1"/>
<path d="M355.00,737.28 V728.80 M351.00,728.80 H359.00" stroke="#222" stroke-width="1.1" fill="none"/>
<rect x="341.50" y="737.28" width="27.00" height="84.22" fill="#efefef" stroke="#555" stroke-width="1"/>
<path d="M212.30,708.30 V821.50 H381.00" stroke="#000" stroke-width="1.3" fill="none"/>
<line x1="208.50" y1="821.50" x2="212.30" y2="821.50" stroke="#000" stroke-width="1.2"/>
<text x="205.50" y="824.97" font-size="9.7" font-weight="bold" text-anchor="end" >0</text>
<line x1="208.50" y1="798.98" x2="212.30" y2="798.98" stroke="#000" stroke-width="1.2"/>
<text x="205.50" y="802.45" font-size="9.7" font-weight="bold" text-anchor="end" >1</text>
<line x1="208.50" y1="776.46" x2="212.30" y2="776.46" stroke="#000" stroke-width="1.2"/>
<text x="205.50" y="779.93" font-size="9.7" font-weight="bold" text-anchor="end" >2</text>
<line x1="208.50" y1="753.94" x2="212.30" y2="753.94" stroke="#000" stroke-width="1.2"/>
<text x="205.50" y="757.41" font-size="9.7" font-weight="bold" text-anchor="end" >3</text>
<line x1="208.50" y1="731.42" x2="212.30" y2="731.42" stroke="#000" stroke-width="1.2"/>
<text x="205.50" y="734.89" font-size="9.7" font-weight="bold" text-anchor="end" >4</text>
<line x1="208.50" y1="708.90" x2="212.30" y2="708.90" stroke="#000" stroke-width="1.2"/>
<text x="205.50" y="712.37" font-size="9.7" font-weight="bold" text-anchor="end" >5</text>
<text x="297.00" y="697.00" font-size="11.6" font-weight="bold" text-anchor="middle" >Bax</text>
<text transform="translate(177.00,764.30) rotate(-90)" font-size="10" font-weight="bold" text-anchor="middle">Bax/<tspan font-weight="normal">&#946;</tspan> actin</text>
<text transform="translate(189.00,764.30) rotate(-90)" font-size="10" font-weight="bold" text-anchor="middle">Ratio</text>
<rect x="281.50" y="711.50" width="16.70" height="7.30" fill="#efefef" stroke="#222" stroke-width="1"/>
<text x="301.20" y="718.30" font-size="8.4" font-weight="bold" text-anchor="start" >48 h</text>
<text transform="translate(242.50,827.80) rotate(-45)" font-size="9.0" font-weight="bold" text-anchor="end">Control</text>
<text transform="translate(281.00,827.80) rotate(-45)" font-size="9.0" font-weight="bold" text-anchor="end">Doc</text>
<text transform="translate(320.50,828.60) rotate(-45)" font-size="9.0" font-weight="bold" text-anchor="end">DIM-C-pPhC<tspan font-size="6.5" dy="1.8">6</tspan><tspan dy="-1.8">H</tspan><tspan font-size="6.5" dy="1.8">5</tspan></text>
<text transform="translate(362.00,828.80) rotate(-45)" font-size="9.0" font-weight="bold" text-anchor="end">Doc + DIM-C-pPhC<tspan font-size="6.5" dy="1.8">6</tspan><tspan dy="-1.8">H</tspan><tspan font-size="6.5" dy="1.8">5</tspan></text>
<circle cx="277.30" cy="765.50" r="1.4" fill="#0a0a0a"/>
<path d="M277.30,763.60 V765.80 M275.50,764.90 L278.45,767.05 M279.10,764.90 L276.15,767.05" stroke="#0a0a0a" stroke-width="0.8" fill="none"/>
<circle cx="316.20" cy="765.70" r="1.4" fill="#0a0a0a"/>
<path d="M316.20,763.80 V766.00 M314.40,765.10 L317.35,767.25 M318.00,765.10 L315.05,767.25" stroke="#0a0a0a" stroke-width="0.8" fill="none"/>
<circle cx="353.60" cy="713.60" r="1.4" fill="#0a0a0a"/>
<path d="M353.60,711.70 V713.90 M351.80,713.00 L354.75,715.15 M355.40,713.00 L352.45,715.15" stroke="#0a0a0a" stroke-width="0.8" fill="none"/>
<circle cx="358.20" cy="713.60" r="1.4" fill="#0a0a0a"/>
<path d="M358.20,711.70 V713.90 M356.40,713.00 L359.35,715.15 M360.00,713.00 L357.05,715.15" stroke="#0a0a0a" stroke-width="0.8" fill="none"/>
<circle cx="355.90" cy="722.80" r="1.4" fill="#0a0a0a"/>
<path d="M355.90,720.90 V723.10 M354.10,722.20 L357.05,724.35 M357.70,722.20 L354.75,724.35" stroke="#0a0a0a" stroke-width="0.8" fill="none"/>
<rect x="0" y="0" width="520" height="1.1" fill="#000"/><rect x="0" y="0" width="1.25" height="911" fill="#000"/><rect x="518.7" y="0" width="1.3" height="911" fill="#000"/><rect x="0" y="909.3" width="520" height="1.7" fill="#000"/>
</svg></body></html>
